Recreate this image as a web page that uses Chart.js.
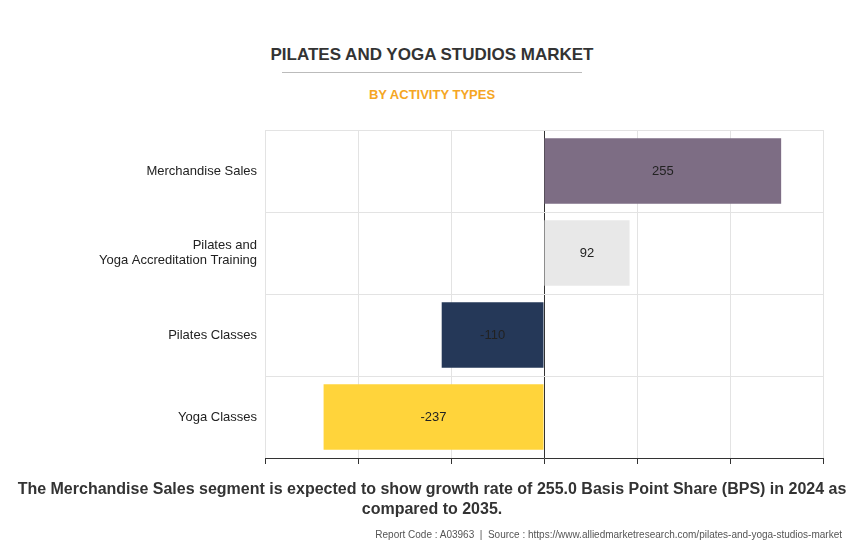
<!DOCTYPE html>
<html><head><meta charset="utf-8">
<script src="https://cdn.jsdelivr.net/npm/chart.js@4/dist/chart.umd.min.js"></script>
<style>
body{margin:0;background:#fff;font-family:"Liberation Sans",Arial,sans-serif}
#wrap{position:relative;width:864px;height:557px}
#c{position:absolute;left:0;top:0}
.t{position:absolute;left:0;width:864px;text-align:center}
</style></head><body>
<div id="wrap">
<div class="t" style="top:45px;font-size:17px;font-weight:bold;color:#333">PILATES AND YOGA STUDIOS MARKET</div>
<div style="position:absolute;left:282px;top:72px;width:300px;border-top:1px solid #bbb"></div>
<div class="t" style="top:87px;font-size:13px;font-weight:bold;color:#f5a623">BY ACTIVITY TYPES</div>
<canvas id="c" width="864" height="557"></canvas>
<div class="t" style="top:479px;font-size:16px;font-weight:bold;color:#333;line-height:20px">The Merchandise Sales segment is expected to show growth rate of 255.0 Basis Point Share (BPS) in 2024 as<br>compared to 2035.</div>
<div style="position:absolute;right:22px;top:529px;font-size:10px;color:#555">Report Code : A03963 &nbsp;|&nbsp; Source : https://www.alliedmarketresearch.com/pilates-and-yoga-studios-market</div>
</div>
<script>
const categories = ['Merchandise Sales', ['Pilates and', 'Yoga Accreditation Training'], 'Pilates Classes', 'Yoga Classes'];
const values = [255, 92, -110, -237];
const colors = ['#7d6d84', '#e8e8e8', '#253858', '#ffd43b'];

const labelPlugin = {
  id: 'vals',
  afterDatasetsDraw(chart) {
    const ctx = chart.ctx;
    chart.getDatasetMeta(0).data.forEach((bar, i) => {
      ctx.save();
      ctx.fillStyle = '#222';
      ctx.font = '13px "Liberation Sans", Arial';
      ctx.textAlign = 'center';
      ctx.textBaseline = 'middle';
      ctx.fillText(values[i], (bar.x + bar.base) / 2, bar.y);
      ctx.restore();
    });
  }
};

new Chart(document.getElementById('c'), {
  type: 'bar',
  data: { labels: categories, datasets: [{ data: values, backgroundColor: colors, barPercentage: 0.8, categoryPercentage: 1 }] },
  options: {
    indexAxis: 'y', responsive: false, animation: false,
    layout: { padding: { top: 130, bottom: 93, right: 41, left: 0 } },
    plugins: { legend: { display: false }, tooltip: { enabled: false } },
    scales: {
      x: {
        min: -300, max: 300,
        ticks: { stepSize: 100, display: false },
        grid: { color: c => c.tick && c.tick.value === 0 ? '#333' : '#e3e3e3', tickLength: 6, tickColor: '#333' },
        border: { display: true, color: '#333' }
      },
      y: {
        afterFit(s) { s.width = 265; },
        ticks: { color: '#222', font: { size: 13, family: '"Liberation Sans", Arial' }, padding: 8 },
        grid: { offset: true, color: '#e3e3e3', drawTicks: false },
        border: { display: false }
      }
    }
  },
  plugins: [labelPlugin]
});
</script>
</body></html>
